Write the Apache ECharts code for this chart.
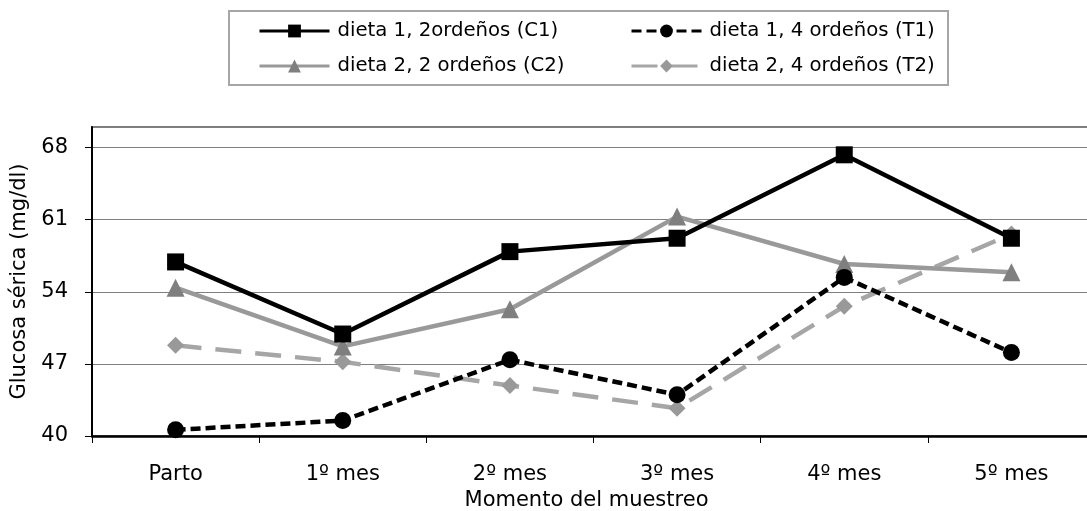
<!DOCTYPE html>
<html>
<head>
<meta charset="utf-8">
<script src="https://cdn.jsdelivr.net/npm/echarts@6/dist/echarts.min.js"></script>
<style>
html,body{margin:0;padding:0;background:#fff;}
#c{width:1087px;height:511px;}
</style>
</head>
<body>
<div id="c"></div>
<script>
var categories = ['Parto', '1º mes', '2º mes', '3º mes', '4º mes', '5º mes'];
var yTicks = [40, 47, 54, 61, 68];
var c1 = [56.9, 49.9, 57.9, 59.2, 67.3, 59.2];
var t1 = [40.6, 41.5, 47.4, 44.0, 55.4, 48.1];
var c2 = [54.4, 48.7, 52.3, 61.3, 56.7, 55.9];
var t2 = [48.8, 47.2, 44.9, 42.7, 52.6, 59.6];
var names = ['dieta 1, 2ordeños (C1)', 'dieta 1, 4 ordeños (T1)', 'dieta 2, 2 ordeños (C2)', 'dieta 2, 4 ordeños (T2)'];

var FONT = '"DejaVu Sans", Verdana, sans-serif';
var chart = echarts.init(document.getElementById('c'), null, {renderer: 'canvas'});
var legendCommon = {
  orient: 'vertical',
  top: 21,
  padding: [0, 0, 0, 5],
  itemWidth: 70, itemHeight: 16, itemGap: 15,
  lineStyle: {width: 3},
  textStyle: {fontFamily: FONT, fontSize: 19.7, color: '#000', padding: [0, 0, 0, 3]}
};
var option = {
  animation: false,
  backgroundColor: '#ffffff',
  textStyle: {fontFamily: FONT, color: '#000'},
  graphic: [{
    type: 'rect',
    shape: {x: 229, y: 11, width: 719, height: 74},
    style: {fill: 'none', stroke: '#a6a6a6', lineWidth: 2},
    silent: true
  }],
  legend: [
    Object.assign({}, legendCommon, {left: 253, data: [names[0], names[2]]}),
    Object.assign({}, legendCommon, {left: 625, data: [names[1], names[3]]})
  ],
  grid: {
    left: 92, width: 1003, top: 127, height: 309,
    outerBoundsMode: 'none',
    containLabel: false,
    show: true, borderColor: '#7f7f7f', borderWidth: 2, backgroundColor: 'transparent'
  },
  xAxis: {
    type: 'category',
    data: categories,
    boundaryGap: true,
    name: 'Momento del muestreo',
    nameLocation: 'middle',
    nameGap: 41,
    nameTextStyle: {fontFamily: FONT, fontSize: 21, color: '#000', padding: [0, 14, 0, 0]},
    axisLine: {lineStyle: {color: '#000', width: 2.5}},
    axisTick: {show: true, inside: false, length: 7, lineStyle: {color: '#000', width: 1}},
    axisLabel: {fontFamily: FONT, fontSize: 21, color: '#000', margin: 28}
  },
  yAxis: {
    type: 'value',
    min: 40, max: 70, interval: 7,
    name: 'Glucosa sérica (mg/dl)',
    nameLocation: 'middle',
    nameGap: 58,
    nameTextStyle: {fontFamily: FONT, fontSize: 21, color: '#000'},
    axisLine: {show: true, lineStyle: {color: '#000', width: 2}},
    axisTick: {show: true, inside: false, length: 7, lineStyle: {color: '#000', width: 1}},
    axisLabel: {
      fontFamily: FONT, fontSize: 21, color: '#000', margin: 24,
      showMaxLabel: false,
      formatter: function (v) { return yTicks.indexOf(v) >= 0 ? String(v) : ''; }
    },
    splitLine: {show: true, lineStyle: {color: '#7f7f7f', width: 1}}
  },
  series: [{
    name: names[0], type: 'line', data: c1,
    symbol: 'rect', symbolSize: 17,
    itemStyle: {color: '#000'},
    lineStyle: {color: '#000', width: 4.5, type: 'solid'},
    z: 4
  }, {
    name: names[1], type: 'line', data: t1,
    symbol: 'circle', symbolSize: 17,
    itemStyle: {color: '#000'},
    lineStyle: {color: '#000', width: 4.5, type: [10, 5]},
    z: 3
  }, {
    name: names[2], type: 'line', data: c2,
    symbol: 'triangle', symbolSize: 18,
    itemStyle: {color: '#7f7f7f'},
    lineStyle: {color: '#999999', width: 4.5, type: 'solid'},
    z: 2
  }, {
    name: names[3], type: 'line', data: t2,
    symbol: 'diamond', symbolSize: 17,
    itemStyle: {color: '#999999'},
    lineStyle: {color: '#a6a6a6', width: 4.5, type: [26, 14]},
    z: 1
  }]
};
chart.setOption(option);
</script>
</body>
</html>
